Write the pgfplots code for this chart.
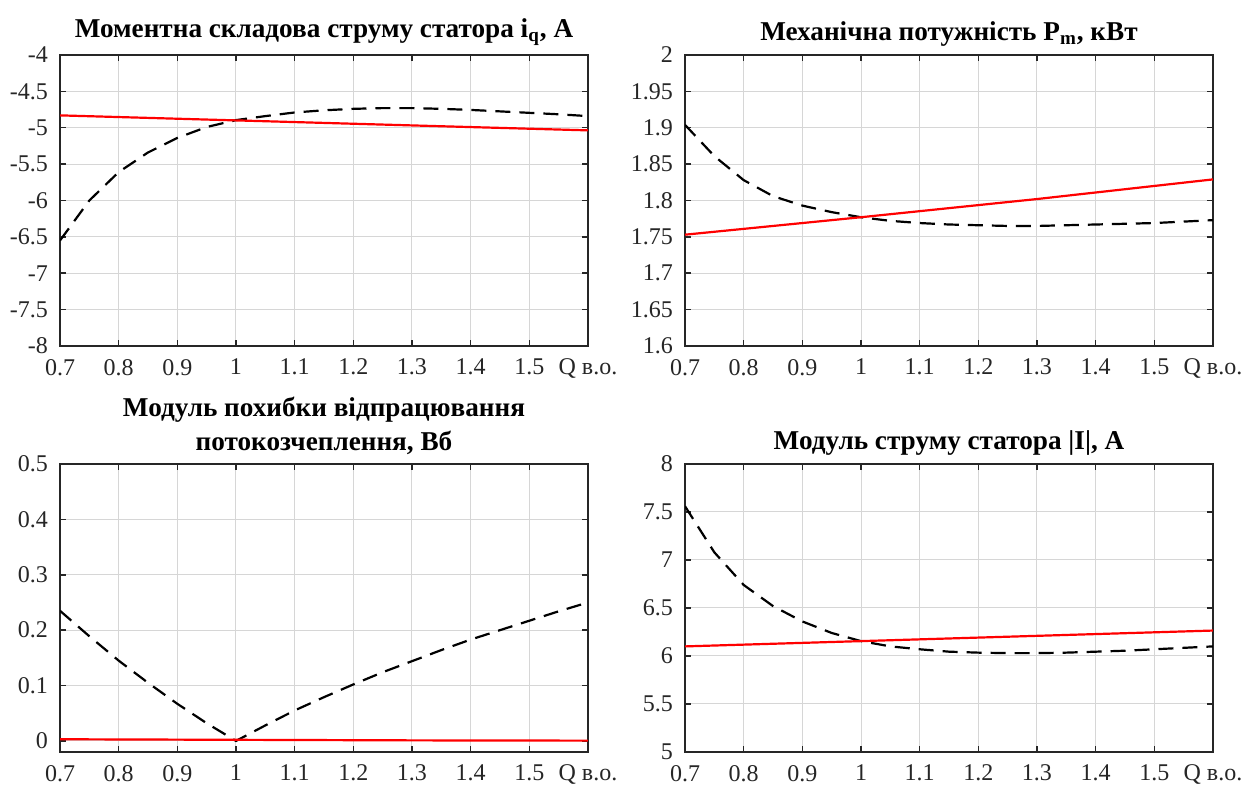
\documentclass[border=0pt]{standalone}
\usepackage{fontspec}
\setmainfont{Liberation Serif}
\newfontfamily\tickfont{Liberation Serif}
\usepackage{pgfplots}
\pgfplotsset{compat=1.18}
\definecolor{axgray}{gray}{0.15}
\definecolor{gridgray}{gray}{0.84}
\pgfplotsset{
  myax/.style={
    scale only axis, width=264pt, height=145.5pt, anchor=south west,
    xmin=0.7, xmax=1.6,
    xtick={0.7,0.8,0.9,1.0,1.1,1.2,1.3,1.4,1.5,1.6},
    xticklabels={0.7,0.8,0.9,1,1.1,1.2,1.3,1.4,1.5,Q в.о.},
    /pgf/number format/assume math mode=true,
    grid=major, major grid style={gridgray, line width=0.5pt},
    axis line style={axgray, line width=0.75pt},
    tick style={axgray, line width=0.75pt},
    tick align=inside, major tick length=3pt, tick pos=both,
    xticklabel pos=bottom, yticklabel pos=left,
    ticklabel style={font=\tickfont\fontsize{12}{14}\selectfont, text=axgray},
    xticklabel style={yshift=-3pt},
    yticklabel style={xshift=-2.5pt},
    title style={font=\bfseries\fontsize{13.6}{17}\selectfont, align=center, text=black, yshift=-5pt},
    every axis plot/.append style={line width=1.1pt},
  },
  reds/.style={color=red, solid},
  dash/.style={color=black, dash pattern=on 7.5pt off 4.5pt},
}
\begin{document}
\begin{tikzpicture}
\useasboundingbox (0,0) rectangle (623.5pt,396pt);
% Top-left
\begin{axis}[myax, at={(30pt,223pt)},
  ymin=-8, ymax=-4,
  ytick={-8,-7.5,-7,-6.5,-6,-5.5,-5,-4.5,-4},
  yticklabels={-8,-7.5,-7,-6.5,-6,-5.5,-5,-4.5,-4},
  title={Моментна складова струму статора i\textsubscript{q}, А}]
\addplot[dash] coordinates {(0.70,-6.55)(0.75,-6.00)(0.80,-5.61)(0.85,-5.34)(0.90,-5.14)(0.95,-4.99)(1.00,-4.895)(1.05,-4.84)(1.10,-4.79)(1.15,-4.76)(1.20,-4.74)(1.25,-4.73)(1.30,-4.73)(1.35,-4.74)(1.40,-4.755)(1.45,-4.775)(1.50,-4.795)(1.55,-4.815)(1.60,-4.84)};
\addplot[reds] coordinates {(0.70,-4.83)(1.00,-4.899)(1.30,-4.968)(1.60,-5.036)};
\end{axis}
% Top-right
\begin{axis}[myax, at={(342.5pt,223pt)},
  ymin=1.6, ymax=2,
  ytick={1.6,1.65,1.7,1.75,1.8,1.85,1.9,1.95,2},
  yticklabels={1.6,1.65,1.7,1.75,1.8,1.85,1.9,1.95,2},
  title={Механічна потужність P\textsubscript{m}, кВт}]
\addplot[dash] coordinates {(0.70,1.904)(0.75,1.861)(0.80,1.828)(0.85,1.806)(0.90,1.793)(0.95,1.784)(1.00,1.777)(1.05,1.772)(1.10,1.769)(1.15,1.767)(1.20,1.766)(1.25,1.765)(1.30,1.765)(1.35,1.766)(1.40,1.767)(1.45,1.768)(1.50,1.769)(1.55,1.771)(1.60,1.773)};
\addplot[reds] coordinates {(0.70,1.753)(1.00,1.777)(1.30,1.802)(1.60,1.829)};
\end{axis}
% Bottom-left
\begin{axis}[myax, at={(30pt,20pt)}, height=144pt,
  ymin=-0.02, ymax=0.5,
  ytick={0,0.1,0.2,0.3,0.4,0.5},
  yticklabels={0,0.1,0.2,0.3,0.4,0.5},
  title={Модуль похибки відпрацювання\\потокозчеплення, Вб}]
\addplot[dash] coordinates {(0.70,0.235)(0.75,0.189)(0.80,0.145)(0.85,0.105)(0.90,0.067)(0.95,0.032)(1.00,0.0)(1.05,0.028)(1.10,0.055)(1.15,0.079)(1.20,0.102)(1.25,0.124)(1.30,0.144)(1.35,0.164)(1.40,0.183)(1.45,0.200)(1.50,0.217)(1.55,0.234)(1.60,0.25)};
\addplot[reds] coordinates {(0.70,0.003)(1.00,0.002)(1.30,0.001)(1.60,0.0005)};
\end{axis}
% Bottom-right
\begin{axis}[myax, at={(342.5pt,20pt)}, height=144pt,
  ymin=5, ymax=8,
  ytick={5,5.5,6,6.5,7,7.5,8},
  yticklabels={5,5.5,6,6.5,7,7.5,8},
  title={Модуль струму статора |I|, А}]
\addplot[dash] coordinates {(0.70,7.56)(0.75,7.08)(0.80,6.74)(0.85,6.52)(0.90,6.36)(0.95,6.24)(1.00,6.155)(1.05,6.10)(1.10,6.07)(1.15,6.045)(1.20,6.035)(1.25,6.03)(1.30,6.03)(1.35,6.035)(1.40,6.045)(1.45,6.055)(1.50,6.07)(1.55,6.085)(1.60,6.10)};
\addplot[reds] coordinates {(0.70,6.10)(1.00,6.155)(1.30,6.21)(1.60,6.265)};
\end{axis}
\end{tikzpicture}
\end{document}
